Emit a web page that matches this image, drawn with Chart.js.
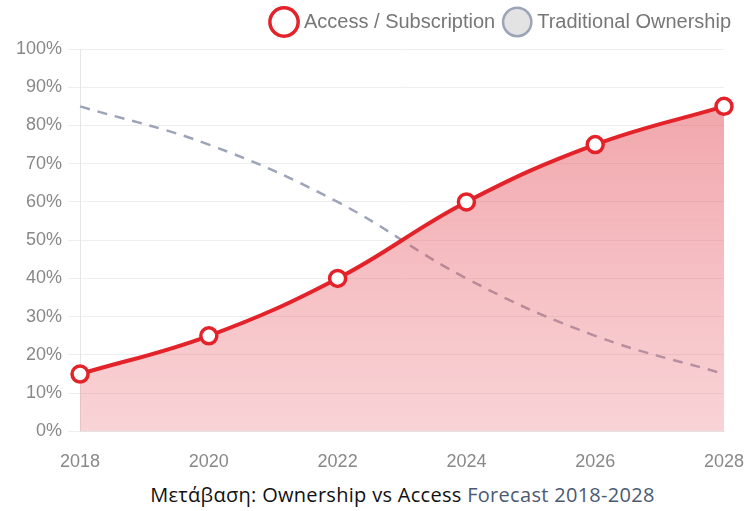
<!DOCTYPE html>
<html>
<head>
<meta charset="utf-8">
<script src="https://cdn.jsdelivr.net/npm/chart.js@4/dist/chart.umd.min.js"></script>
<style>
  body { margin: 0; background: #fff; }
  #wrap { width: 745px; height: 485px; position: relative; }
  #caption {
    text-align: center;
    font-family: "Open Sans", "Noto Sans", sans-serif;
    font-size: 20px;
    letter-spacing: 0.3px;
    color: #111;
    margin-top: -4px;
    padding-left: 60px;
  }
  #caption span { color: #4b5a72; }
</style>
</head>
<body>
<div id="wrap"><canvas id="chart"></canvas></div>
<div id="caption">Μετάβαση: Ownership vs Access <span>Forecast 2018-2028</span></div>
<script>
// years on the x axis
const years = ["2018", "2020", "2022", "2024", "2026", "2028"];
// share of market, percent
const accessShare = [15, 25, 40, 60, 75, 85];
const ownershipShare = [85, 75, 60, 40, 25, 15];
const yTicks = [0, 10, 20, 30, 40, 50, 60, 70, 80, 90, 100];

const ctx = document.getElementById("chart");
const tickFont = { family: "Liberation Sans, Arial, sans-serif", size: 18 };

function redGradient(context) {
    const area = context.chart.chartArea;
    if (!area) return "rgba(230,60,70,0.4)";
    const g = context.chart.ctx.createLinearGradient(0, area.top, 0, area.bottom);
    g.addColorStop(0, "rgba(226,78,88,0.55)");
    g.addColorStop(1, "rgba(235,110,120,0.3)");
    return g;
}

// a bit more room under the legend
const legendGap = {
    id: "legendGap",
    beforeInit(chart) {
        const fit = chart.legend.fit;
        chart.legend.fit = function () {
            fit.bind(chart.legend)();
            this.height += 7;
        };
    }
};

new Chart(ctx, {
    type: "line",
    data: {
        labels: years,
        datasets: [{
            label: "Access / Subscription",
            data: accessShare,
            borderColor: "#e3222a",
            backgroundColor: redGradient,
            borderWidth: 4,
            fill: "origin",
            tension: 0.4,
            pointRadius: 8,
            pointBorderWidth: 3.5,
            pointBackgroundColor: "#ffffff",
            pointBorderColor: "#e3222a"
        }, {
            label: "Traditional Ownership",
            data: ownershipShare,
            borderColor: "#9ca4b8",
            backgroundColor: "#e3e3e3",
            borderWidth: 2.5,
            borderDash: [10, 8],
            fill: false,
            tension: 0.4,
            pointRadius: 0
        }]
    },
    options: {
        responsive: true,
        maintainAspectRatio: false,
        animation: false,
        layout: { padding: { left: 10, right: 2, top: 0, bottom: 0 } },
        plugins: {
            legend: {
                position: "top",
                align: "end",
                labels: {
                    usePointStyle: true,
                    pointStyle: "circle",
                    boxWidth: 22,
                    boxHeight: 22,
                    padding: 12,
                    color: "#777",
                    font: { family: "Liberation Sans, Arial, sans-serif", size: 20 }
                }
            },
            tooltip: { enabled: false }
        },
        scales: {
            x: {
                grid: { display: false },
                border: { color: "#e6e6e6" },
                afterFit: axis => { axis.paddingRight = 21; },
                ticks: {
                    color: "#888",
                    padding: 12,
                    font: tickFont
                }
            },
            y: {
                min: 0,
                max: 100,
                afterBuildTicks: axis => { axis.ticks = yTicks.map(v => ({ value: v })); },
                grid: { color: "#eeeeee", tickLength: 12 },
                border: { color: "#e6e6e6" },
                ticks: {
                    color: "#888",
                    padding: 6,
                    callback: v => v + "%",
                    font: tickFont
                }
            }
        }
    },
    plugins: [legendGap]
});
</script>
</body>
</html>
